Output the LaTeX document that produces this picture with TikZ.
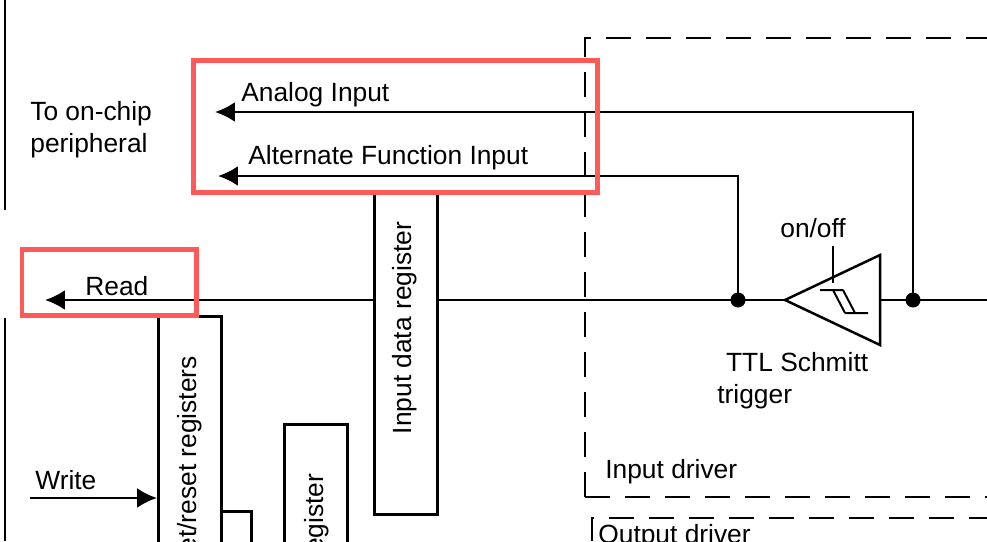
\documentclass[tikz,border=0pt]{standalone}
\usepackage{fontspec}
\setmainfont{Liberation Sans}
\usetikzlibrary{positioning,arrows.meta}
\tikzset{
  reg/.style={draw, fill=white, line width=0.6mm, anchor=north west, inner sep=0mm},
  wire/.style={line width=0.5mm},
  tip/.style={-{Latex[length=4mm,width=4mm]}},
  hl/.style={draw=red!65!white, line width=1mm},
  drv/.style={line width=0.5mm, dash pattern=on 5mm off 3mm},
  lbl/.style={anchor=west, inner sep=0mm, font=\fontsize{15}{18.5}\selectfont},
  vlbl/.style={rotate=90, font=\fontsize{15}{18.5}\selectfont},
  dot/.style={circle, fill, minimum size=3mm, inner sep=0mm}
}

\begin{document}
\begin{tikzpicture}[x=0.02cm, y=-0.02cm]
  \useasboundingbox (0,0) rectangle (987,541);
  \clip (0,0) rectangle (987,541);
  % border and driver frames
  \draw[wire] (5,0) -- (5,210) (5,318) -- (5,541);
  \draw[drv] (585,497) |- (987,38);
  \draw[drv] (585,497) -- (987,497);
  \draw[drv] (592,541) |- (987,518);
  \node[lbl] (indrv) at (605,472) {Input driver};
  \node[lbl] (outdrv) at (598,537) {Output driver};

  % nodes
  \coordinate (readend) at (45,300);
  \coordinate (anend) at (215,112);
  \coordinate (altend) at (218,176);
  \coordinate (outend) at (987,300);
  \node[dot] (dalt) at (738,300) {};
  \node[dot] (dan) at (913,300) {};
  \coordinate (tl) at (785,300);
  \coordinate (tr) at (880,300);

  % signal wires
  \draw[wire, tip] (dan.center) |- (anend);
  \draw[wire, tip] (dalt.center) |- (altend);
  \draw[wire, tip] (tl) -- (readend);
  \draw[wire] (tr) -- (outend);
  \draw[wire, tip] (30,498) -- (157,498);

  % registers
  \node[reg, minimum width=63*0.02cm, minimum height=321*0.02cm] (idr) at (373,192) {};
  \node[vlbl] at (405,328) {Input data register};
  \node[reg, minimum width=63*0.02cm, minimum height=260*0.02cm] (bsr) at (157,315) {};
  \node[vlbl] at (190,480) {Bit set/reset registers};
  \node[reg, minimum width=30*0.02cm, minimum height=60*0.02cm] (sm) at (220,510) {};
  \node[reg, minimum width=63*0.02cm, minimum height=150*0.02cm] (odr) at (283,423) {};
  \node[vlbl] at (317,590) {Output data register};

  % Schmitt trigger
  \draw[line width=0.5mm, fill=white] (785,300) -- (880,255) -- (880,345) -- cycle;
  \draw[line width=0.4mm] (833,246) -- (833,283);
  \draw[line width=0.4mm] (820,290) -- (843,290) (833,290) -- (845,313)
    (843,290) -- (855,313) (845,313) -- (868,313);
  \node[lbl] (onoff) at (780,228) {on/off};
  \node[lbl, align=left, anchor=north west] (ttl) at (717,352) {\hspace*{5pt}TTL Schmitt\\trigger};

  % labels
  \node[lbl] (an) at (241,95) {Analog Input};
  \node[lbl] (alt) at (248,158) {Alternate Function Input};
  \node[lbl, align=left, anchor=north west] (periph) at (30,101) {To on-chip\\peripheral};
  \node[lbl] (rd) at (85,286) {Read};
  \node[lbl] (wr) at (35,480) {Write};

  % highlights
  \draw[hl] (193,60) rectangle (597,192);
  \draw[hl] (22,249) rectangle (196,315);
\end{tikzpicture}
\end{document}
